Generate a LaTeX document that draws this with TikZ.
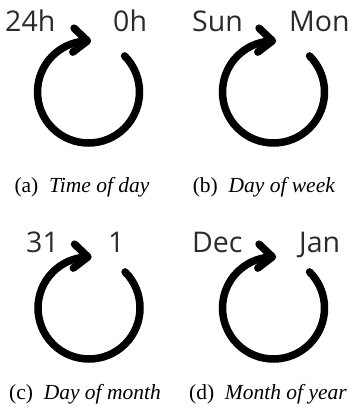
\documentclass[tikz,border=0pt]{standalone}
\usepackage{fontspec}
\setmainfont{Liberation Serif}
\newfontfamily\lblfont{Open Sans}
\usetikzlibrary{arrows.meta,bending,calc}
\definecolor{lblgray}{HTML}{2B2B2B}
\tikzset{
  cyc/.style={line width=7.5pt, line cap=round, -{Straight Barb[length=14pt,width=24pt,flex,line cap=round,line join=round]}},
  lbl/.style={anchor=base west, inner sep=0pt, font=\lblfont\fontsize{28.5}{30}\selectfont, text=lblgray},
  captxt/.style={anchor=base, inner sep=0pt, font=\fontsize{21.5}{23}\selectfont}
}
\begin{document}
\begin{tikzpicture}[x=1pt,y=1pt]
\useasboundingbox (0,0) rectangle (353,418);
% (a)
\coordinate (ca) at (88.5,326);
\draw[cyc] ($(ca)+(45:51)$) arc[start angle=45,end angle=-273,radius=51];
\node[lbl] (a1) at (5,386) {24h};
\node[lbl] (a2) at (113,386) {0h};
\node[captxt] (acap) at (82,225) {(a)\enspace\textit{Time of day}};
% (b)
\coordinate (cb) at (273.5,326);
\draw[cyc] ($(cb)+(45:51)$) arc[start angle=45,end angle=-273,radius=51];
\node[lbl] (b1) at (192,386) {Sun};
\node[lbl] (b2) at (289,386) {Mon};
\node[captxt] (bcap) at (264,225) {(b)\enspace\textit{Day of week}};
% (c)
\coordinate (cc) at (89,110);
\draw[cyc] ($(cc)+(45:51)$) arc[start angle=45,end angle=-273,radius=51];
\node[lbl] (c1) at (26,165) {31};
\node[lbl] (c2) at (108,165) {1};
\node[captxt] (ccap) at (85,18) {(c)\enspace\textit{Day of month}};
% (d)
\coordinate (cd) at (273.5,110);
\draw[cyc] ($(cd)+(45:51)$) arc[start angle=45,end angle=-273,radius=51];
\node[lbl] (d1) at (192,165) {Dec};
\node[lbl] (d2) at (299,165) {Jan};
\node[captxt] (dcap) at (268,18) {(d)\enspace\textit{Month of year}};
\end{tikzpicture}
\end{document}
